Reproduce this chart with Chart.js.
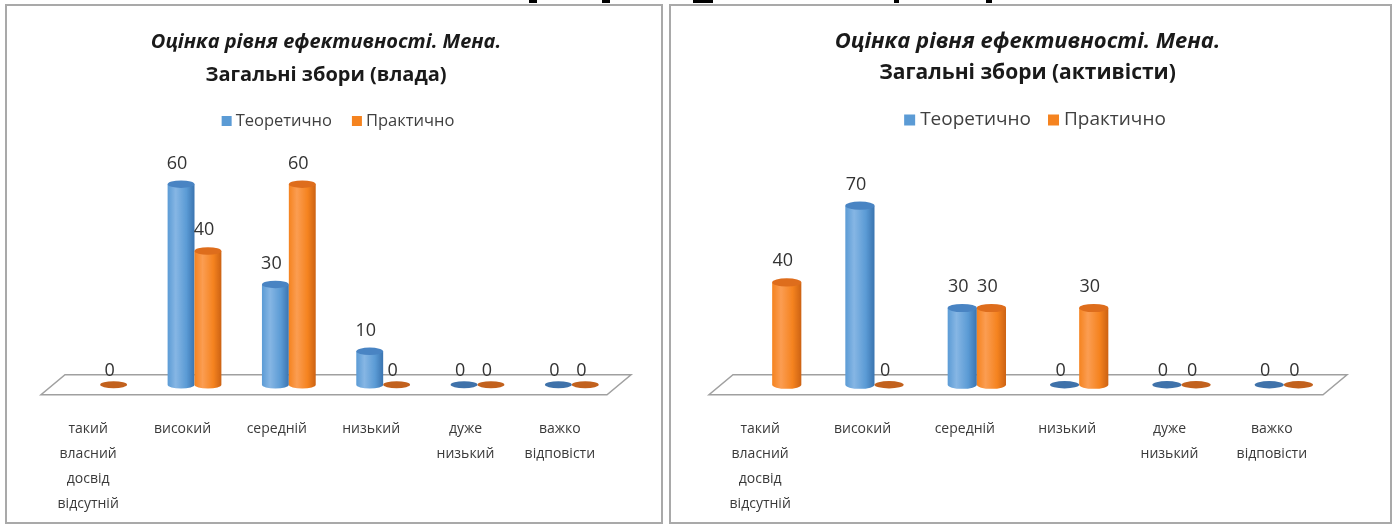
<!DOCTYPE html>
<html>
<head>
<meta charset="utf-8">
<title>Оцінка рівня ефективності. Мена</title>
<script src="https://cdn.jsdelivr.net/npm/chart.js"></script>
<style>
    body {
        margin: 0;
        background: #fff;
        width: 1398px;
        height: 528px;
        position: relative;
        overflow: hidden;
        font-family: 'Open Sans', sans-serif;
    }
    .panel {
        position: absolute;
        top: 4px;
        height: 516px;
        border: 2px solid #a9a9a9;
        background: #fff;
    }
    .panel canvas { display: block; }
    #left { left: 5px; width: 654px; }
    #right { left: 669px; width: 719px; }
    .ink { position: absolute; top: 0; height: 3px; background: #000; }
</style>
</head>
<body>

<div class="ink" style="left:529px;width:8px"></div>
<div class="ink" style="left:602px;width:8px"></div>
<div class="ink" style="left:693px;width:20px"></div>
<div class="ink" style="left:894px;width:5px"></div>
<div class="ink" style="left:986px;width:6px"></div>

<div class="panel" id="left"><canvas id="chartLeft" width="654" height="516"></canvas></div>
<div class="panel" id="right"><canvas id="chartRight" width="719" height="516"></canvas></div>

<script>
    // categories and values
    const categories = [
        ['такий', 'власний', 'досвід', 'відсутній'],
        'високий',
        'середній',
        'низький',
        ['дуже', 'низький'],
        ['важко', 'відповісти']
    ];
    const seriesNames = ['Теоретично', 'Практично'];
    const titleText = 'Оцінка рівня ефективності. Мена.';

    const vladaTheory = [null, 60, 30, 10, 0, 0];
    const vladaPractice = [0, 40, 60, 0, 0, 0];

    const activistsTheory = [null, 70, 30, 0, 0, 0];
    const activistsPractice = [40, 0, 30, 30, 0, 0];

    const tones = {
        blue:   { mid: '#5b9bd5', light: '#86b6e4', dark: '#3a74b0', cap: '#4984c3', flat: '#3f72aa' },
        orange: { mid: '#f5831f', light: '#fb9d52', dark: '#cc6213', cap: '#de6d1c', flat: '#c2611d' }
    };

    // floor + 3D cylinders drawn on the bar elements' positions
    const cylinders = {
        id: 'cylinders',
        beforeDatasetsDraw(chart, args, opts) {
            const ctx = chart.ctx;
            const a = chart.chartArea;
            ctx.save();
            ctx.beginPath();
            ctx.moveTo(a.left, a.bottom);
            ctx.lineTo(a.right, a.bottom);
            ctx.lineTo(a.right + opts.dx, a.bottom - opts.dy);
            ctx.lineTo(a.left + opts.dx, a.bottom - opts.dy);
            ctx.closePath();
            ctx.fillStyle = '#fff';
            ctx.fill();
            ctx.strokeStyle = '#a0a0a0';
            ctx.lineWidth = 1.5;
            ctx.stroke();

            chart.data.datasets.forEach((ds, i) => {
                const meta = chart.getDatasetMeta(i);
                const c = ds.tone;
                meta.data.forEach((bar, j) => {
                    const v = ds.data[j];
                    if (v === null) return;
                    const w = bar.width;
                    const rx = w / 2;
                    const ry = w * 0.14;
                    const cx = bar.x + opts.dx / 2;
                    const base = bar.base - opts.dy / 2;
                    const top = bar.y - opts.dy / 2;

                    if (v > 0) {
                        const g = ctx.createLinearGradient(cx - rx, 0, cx + rx, 0);
                        g.addColorStop(0, c.mid);
                        g.addColorStop(0.3, c.light);
                        g.addColorStop(0.7, c.mid);
                        g.addColorStop(1, c.dark);
                        ctx.beginPath();
                        ctx.moveTo(cx - rx, top);
                        ctx.lineTo(cx - rx, base);
                        ctx.ellipse(cx, base, rx, ry, 0, Math.PI, 0, true);
                        ctx.lineTo(cx + rx, top);
                        ctx.closePath();
                        ctx.fillStyle = g;
                        ctx.fill();
                        ctx.beginPath();
                        ctx.ellipse(cx, top, rx, ry, 0, 0, Math.PI * 2);
                        ctx.fillStyle = c.cap;
                        ctx.fill();
                    } else {
                        ctx.beginPath();
                        ctx.ellipse(cx, base, rx, ry * 0.9, 0, 0, Math.PI * 2);
                        ctx.fillStyle = c.flat;
                        ctx.fill();
                    }

                    ctx.fillStyle = '#333';
                    ctx.font = opts.labelFont;
                    ctx.textAlign = 'center';
                    ctx.textBaseline = 'bottom';
                    const ly = v > 0 ? top - ry - 8 : base - ry - 1;
                    ctx.fillText(String(v), cx - 4, ly);
                });
            });
            ctx.restore();
            return false;
        }
    };

    // two title lines + legend row, centred on the panel (Excel puts them a bit off the plot centre)
    const header = {
        id: 'header',
        afterDraw(chart, args, opts) {
            const ctx = chart.ctx;
            const mid = chart.width / 2;
            ctx.save();
            ctx.textBaseline = 'middle';
            ctx.textAlign = 'center';
            ctx.fillStyle = '#1a1a1a';
            ctx.font = 'italic bold ' + opts.titleSize + 'px "Open Sans"';
            ctx.fillText(titleText, mid + opts.titleShift, opts.titleY);
            ctx.font = 'bold ' + opts.subSize + 'px "Open Sans"';
            ctx.fillText(opts.subtitle, mid + opts.titleShift, opts.subY);

            ctx.font = opts.legendSize + 'px "Open Sans"';
            ctx.textAlign = 'left';
            const items = chart.data.datasets.map(ds => ({
                text: ds.label,
                color: ds.backgroundColor,
                w: opts.box + opts.gap + ctx.measureText(ds.label).width
            }));
            const total = items.reduce((s, it) => s + it.w, 0) + opts.spacing * (items.length - 1);
            let x = mid + opts.legendShift - total / 2;
            items.forEach(it => {
                ctx.fillStyle = it.color;
                ctx.fillRect(x, opts.legendY - opts.box / 2, opts.box, opts.box);
                ctx.fillStyle = '#404040';
                ctx.fillText(it.text, x + opts.box + opts.gap, opts.legendY);
                x += it.w + opts.spacing;
            });
            ctx.restore();
        }
    };

    function makeChart(id, theory, practice, cfg) {
        return new Chart(document.getElementById(id), {
            type: 'bar',
            data: {
                labels: categories,
                datasets: [
                    { label: seriesNames[0], data: theory, backgroundColor: tones.blue.mid, tone: tones.blue },
                    { label: seriesNames[1], data: practice, backgroundColor: tones.orange.mid, tone: tones.orange }
                ]
            },
            options: {
                responsive: false,
                animation: false,
                categoryPercentage: 0.57,
                barPercentage: 1,
                layout: { padding: cfg.padding },
                scales: {
                    x: {
                        grid: { display: false, drawTicks: false },
                        border: { display: false },
                        ticks: {
                            color: '#3a3a3a',
                            font: { family: 'Open Sans', size: 14, lineHeight: 1.79 },
                            padding: 22,
                            maxRotation: 0,
                            autoSkip: false
                        }
                    },
                    y: { display: false, min: 0, max: cfg.yMax }
                },
                plugins: {
                    legend: { display: false },
                    tooltip: { enabled: false },
                    cylinders: { dx: 24, dy: 20, labelFont: '18px "Open Sans"' },
                    header: cfg.header
                }
            },
            plugins: [cylinders, header]
        });
    }

    makeChart('chartLeft', vladaTheory, vladaPractice, {
        padding: { left: 34, right: 54, top: 138, bottom: -17 },
        yMax: 75,
        header: {
            subtitle: 'Загальні збори (влада)',
            titleSize: 20, subSize: 20, titleShift: -8, titleY: 36, subY: 69,
            legendSize: 16.5, box: 10, gap: 4, spacing: 20, legendY: 115, legendShift: 4
        }
    });
    makeChart('chartRight', activistsTheory, activistsPractice, {
        padding: { left: 38, right: 67, top: 138, bottom: -17 },
        yMax: 98,
        header: {
            subtitle: 'Загальні збори (активісти)',
            titleSize: 22, subSize: 21, titleShift: -3, titleY: 36, subY: 67,
            legendSize: 19, box: 11, gap: 5, spacing: 17, legendY: 114, legendShift: 4.5
        }
    });
</script>

</body>
</html>
